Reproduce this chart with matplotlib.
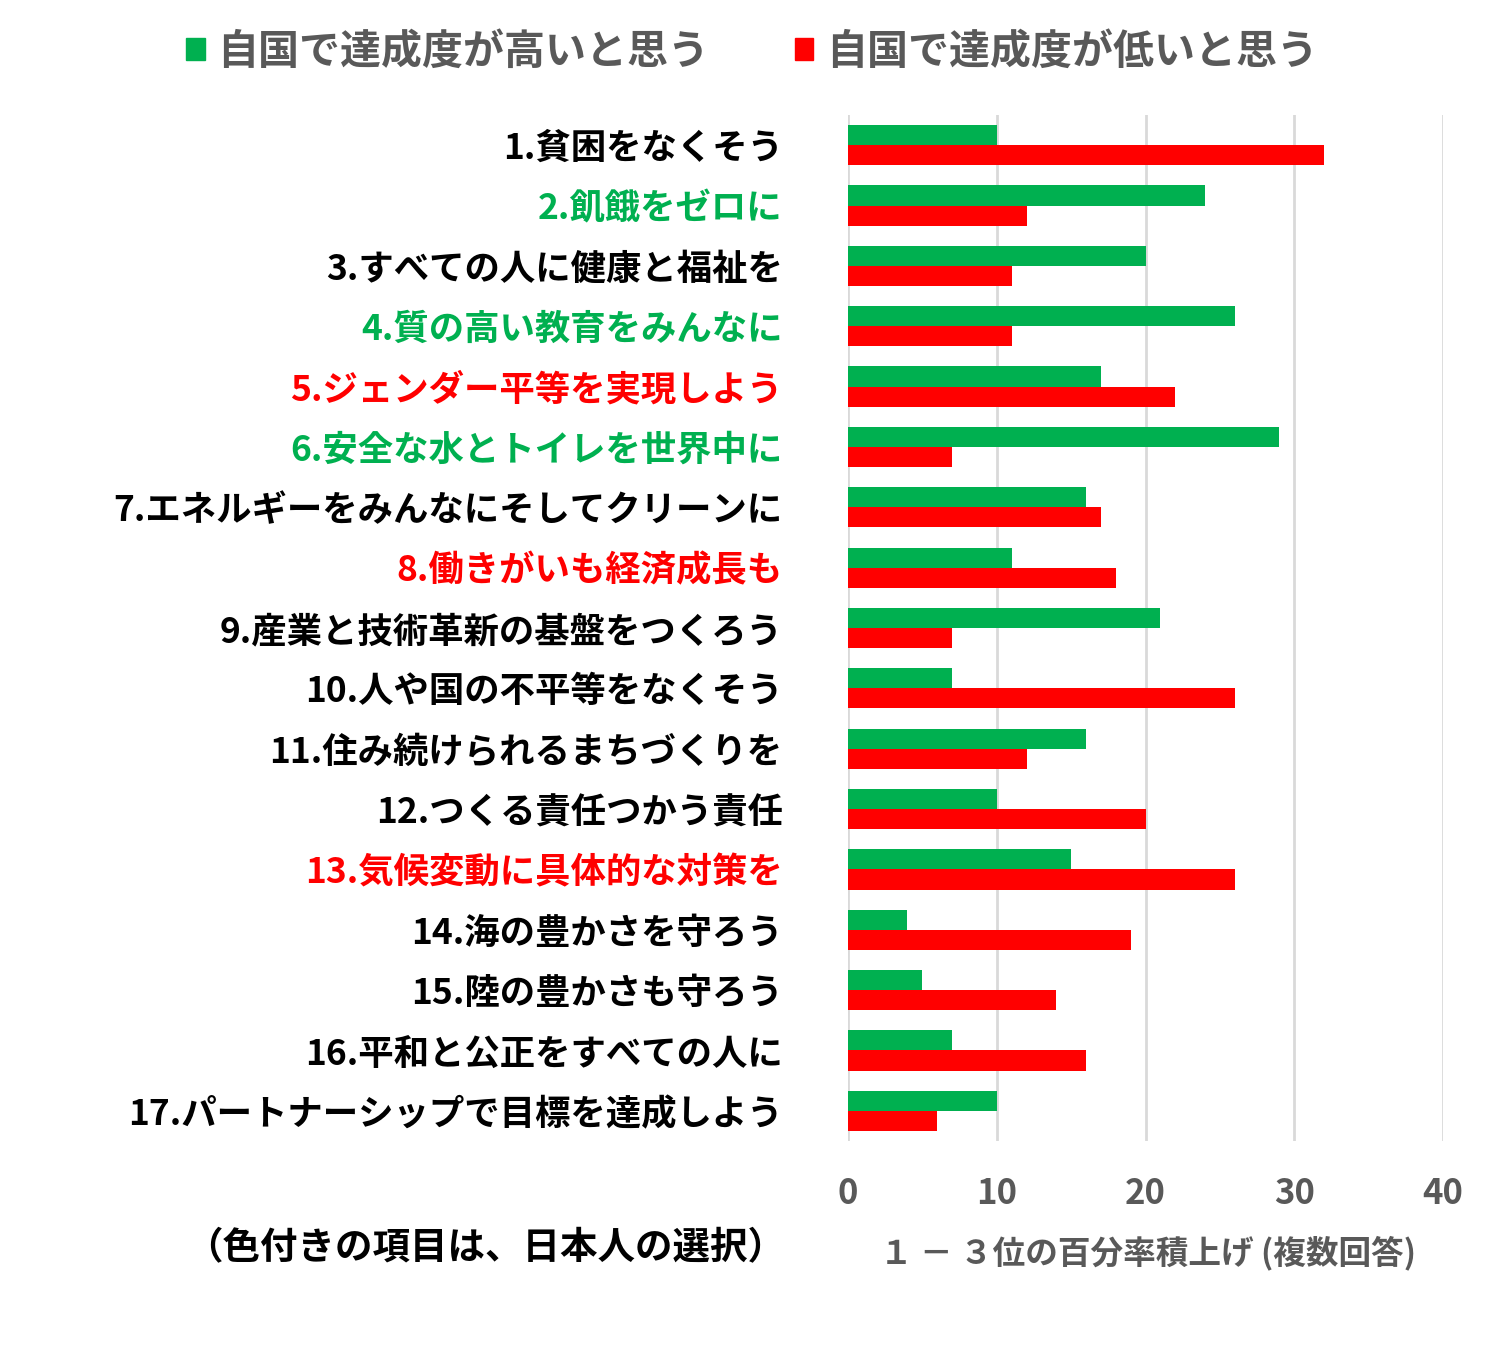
import matplotlib
matplotlib.use("Agg")
import matplotlib.pyplot as plt
from matplotlib.patches import Patch
import matplotlib.transforms as mtransforms
import numpy as np

plt.rcParams['font.family'] = ['Noto Sans CJK JP', 'DejaVu Sans']

categories = [
    "1.貧困をなくそう",
    "2.飢餓をゼロに",
    "3.すべての人に健康と福祉を",
    "4.質の高い教育をみんなに",
    "5.ジェンダー平等を実現しよう",
    "6.安全な水とトイレを世界中に",
    "7.エネルギーをみんなにそしてクリーンに",
    "8.働きがいも経済成長も",
    "9.産業と技術革新の基盤をつくろう",
    "10.人や国の不平等をなくそう",
    "11.住み続けられるまちづくりを",
    "12.つくる責任つかう責任",
    "13.気候変動に具体的な対策を",
    "14.海の豊かさを守ろう",
    "15.陸の豊かさも守ろう",
    "16.平和と公正をすべての人に",
    "17.パートナーシップで目標を達成しよう",
]
high = [10, 24, 20, 26, 17, 29, 16, 11, 21, 7, 16, 10, 15, 4, 5, 7, 10]
low = [32, 12, 11, 11, 22, 7, 17, 18, 7, 26, 12, 20, 26, 19, 14, 16, 6]
# label colour group: "g" = green, "r" = red, "k" = black
label_group = ["k", "g", "k", "g", "r", "g", "k", "r", "k", "k", "k", "k", "r", "k", "k", "k", "k"]
series_names = ["自国で達成度が高いと思う", "自国で達成度が低いと思う"]
xticks = [0, 10, 20, 30, 40]
xlabel = "１ － ３位の百分率積上げ (複数回答)"
note = "（色付きの項目は、日本人の選択）"

GREEN = "#00B050"
RED = "#FF0000"
GRAY = "#595959"
color_map = {"g": GREEN, "r": RED, "k": "#000000"}

fig = plt.figure(figsize=(14.89, 13.5), dpi=100)
ax = fig.add_axes([848/1489, 1 - 1141/1350, (1443-848)/1489, (1141-115)/1350])

y = np.arange(len(categories))
h = 0.333
ax.barh(y - h/2, high, height=h, color=GREEN, zorder=3)
ax.barh(y + h/2, low, height=h, color=RED, zorder=3)

ax.set_ylim(len(categories) - 0.5, -0.5)
ax.set_xlim(0, 40)
ax.set_xticks(xticks)
ax.set_xticklabels([str(t) for t in xticks], fontsize=25, fontweight='bold', color=GRAY)
ax.tick_params(axis='x', length=0, pad=25)
ax.set_yticks(y)
ax.set_yticklabels(categories, fontsize=25.5, fontweight='bold')
offset = mtransforms.ScaledTranslation(0, 4/100, fig.dpi_scale_trans)
for lbl, g in zip(ax.get_yticklabels(), label_group):
    lbl.set_color(color_map[g])
    lbl.set_transform(lbl.get_transform() + offset)
ax.tick_params(axis='y', length=0, pad=47)
ax.grid(axis='x', color="#D9D9D9", linewidth=2, zorder=0)
for s in ax.spines.values():
    s.set_visible(False)

fig.text(1148/1489, 1 - 1253/1350, xlabel, fontsize=23.5, fontweight='bold', color=GRAY,
         ha='center', va='center')
fig.text(485/1489, 1 - 1248/1350, note, fontsize=27, fontweight='bold', color='black',
         ha='center', va='center')

handles = [Patch(color=GREEN), Patch(color=RED)]
fig.legend(handles, series_names, loc='center', bbox_to_anchor=(752/1489, 1 - 52/1350),
           ncol=2, frameon=False, handlelength=0.45, handleheight=0.45, handletextpad=0.3,
           columnspacing=2.1, prop={'size': 29.5, 'weight': 'bold'}, labelcolor=GRAY)

fig.savefig("out.png", dpi=100, facecolor='white')
